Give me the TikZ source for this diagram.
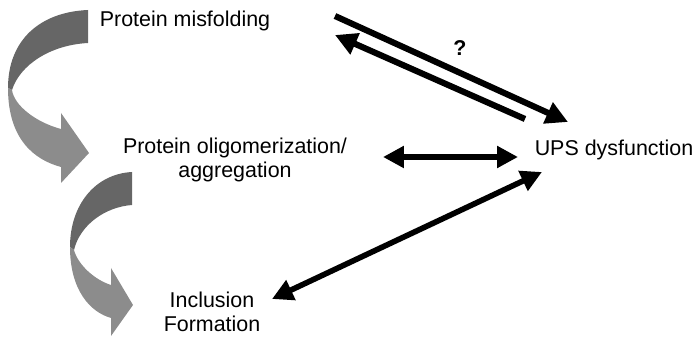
\documentclass[tikz,border=0pt]{standalone}
\usepackage{fontspec}
\setmainfont{Liberation Sans}
\usetikzlibrary{arrows.meta}
\definecolor{ribbondark}{gray}{0.40}
\definecolor{ribbonlight}{gray}{0.55}
\begin{document}
\begin{tikzpicture}[x=0.02cm, y=-0.02cm,
		stage/.style={align=center, inner sep=0pt, font=\fontsize{12.2}{13.6}\selectfont},
		oneway/.style={line width=3.5pt, -{Triangle[length=0.44cm,width=0.44cm]}},
		twoway/.style={line width=3.2pt, {Triangle[length=0.42cm,width=0.42cm]}-{Triangle[length=0.42cm,width=0.42cm]}}]
				\useasboundingbox (0,0) rectangle (694,337);
				\fill[ribbondark] (88,10) -- (88,43) .. controls (50,45) and (20,65) .. (12,90) -- (8,88) .. controls (8,40) and (40,12) .. (88,10) -- cycle;
				\fill[ribbonlight] (8,88) .. controls (8,140) and (35,160) .. (61,167) -- (61,183) -- (89,153) -- (61,113) -- (61,129) .. controls (35,122) and (14,105) .. (12,90) -- cycle;
				\fill[ribbondark] (132,172) -- (132,205) .. controls (105,207) and (80,225) .. (74,250) -- (70,247) .. controls (70,205) and (95,174) .. (132,172) -- cycle;
				\fill[ribbonlight] (70,247) .. controls (70,290) and (90,312) .. (111,318) -- (111,336) -- (133,305) -- (111,268) -- (111,285) .. controls (95,280) and (78,265) .. (74,250) -- cycle;
				\node[stage] (misfold) at (185,21) {Protein misfolding};
				\node[stage] (oligo) at (235,160) {Protein oligomerization/\\aggregation};
				\node[stage] (incl) at (212,312) {Inclusion\\Formation};
				\node[stage] (ups) at (614,150) {UPS dysfunction};
				\node[font=\fontsize{12.2}{14}\selectfont\bfseries] (query) at (460,48) {?};
				\coordinate (fwdA) at (335,16);
				\coordinate (fwdB) at (568,122);
				\coordinate (backA) at (525,119);
				\coordinate (backB) at (335,35);
				\coordinate (midA) at (383,157);
				\coordinate (midB) at (518,157);
				\coordinate (lowA) at (272,299);
				\coordinate (lowB) at (542,172);
				\draw[oneway] (fwdA) -- (fwdB);
				\draw[oneway] (backA) -- (backB);
				\draw[twoway] (midA) -- (midB);
				\draw[twoway] (lowA) -- (lowB);
			\end{tikzpicture}
\end{document}
